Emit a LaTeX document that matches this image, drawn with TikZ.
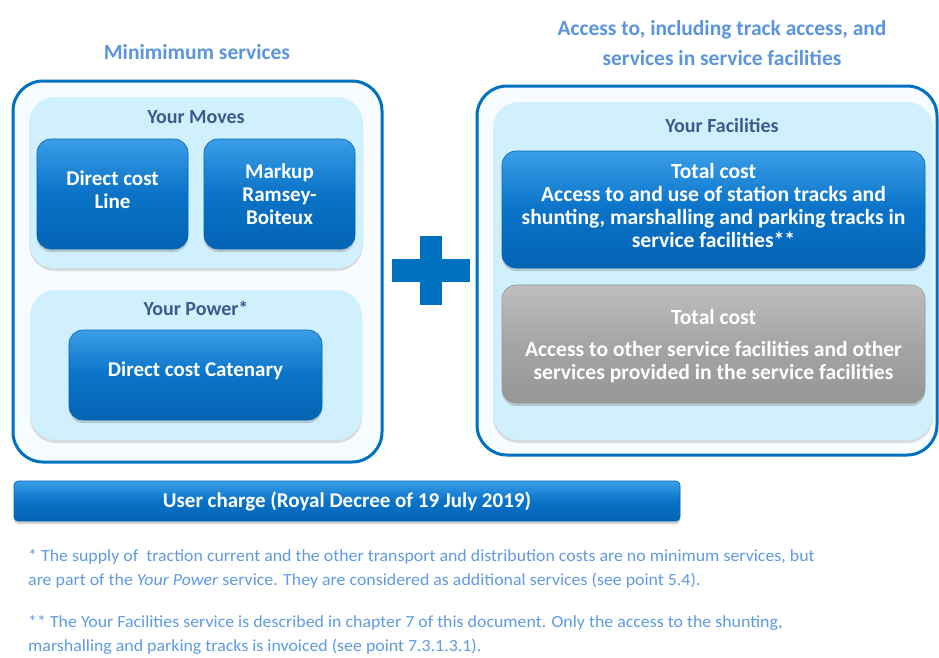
\documentclass[tikz,border=0pt]{standalone}
\usepackage{fontspec}
\setmainfont{Carlito}
\usetikzlibrary{shadows}
\definecolor{titleblue}{RGB}{91,149,222}
\definecolor{labelblue}{RGB}{62,90,140}
\definecolor{panelfill}{RGB}{207,240,252}
\definecolor{outerline}{RGB}{0,112,192}
\definecolor{outerfill}{RGB}{246,252,255}
\definecolor{boxtop}{RGB}{58,158,232}
\definecolor{boxmid}{RGB}{10,115,200}
\definecolor{boxbot}{RGB}{4,100,180}
\definecolor{graytop}{RGB}{190,190,190}
\definecolor{graymid}{RGB}{165,165,165}
\definecolor{graybot}{RGB}{150,150,150}
\definecolor{notecol}{RGB}{95,155,225}
\tikzset{
  titletext/.style={text=titleblue, font=\fontsize{21.5}{30}\selectfont\bfseries, align=center},
  outerbox/.style={draw=outerline, line width=3pt, fill=outerfill, rounded corners=30pt},
  panel/.style={fill=panelfill, rounded corners=26pt, drop shadow={shadow xshift=0pt, shadow yshift=-3pt, opacity=0.25}},
  paneltext/.style={text=labelblue, font=\fontsize{20}{22}\selectfont\bfseries},
  bluebox/.style={rounded corners=14pt, top color=boxtop, bottom color=boxbot, middle color=boxmid,
     draw=boxbot, line width=0.6pt, inner sep=0pt,
     drop shadow={shadow xshift=0pt, shadow yshift=-3pt, opacity=0.35}},
  graybox/.style={bluebox, top color=graytop, bottom color=graybot, middle color=graymid, draw=graybot},
  boxtext/.style={text=white, align=center, inner sep=0pt, font=\fontsize{21}{23}\selectfont\bfseries},
  widetext/.style={boxtext, font=\fontsize{21.6}{23.3}\selectfont\bfseries},
  notetext/.style={text=notecol, font=\fontsize{17}{24.5}\selectfont, anchor=west, align=left, inner sep=0pt},
  plusbar/.style={fill=outerline, draw=none}
}
\begin{document}
\begin{tikzpicture}[x=1pt,y=-1pt]
\useasboundingbox (0,0) rectangle (939,657);
\fill[white] (0,0) rectangle (939,657);
% titles
\node[titletext] (tmin) at (197,52) {Minimimum services};
\node[titletext] (tacc) at (722,43) {Access to, including track access, and\\services in service facilities};
% left outer
\draw[outerbox] (13,81) rectangle (382,462);
\path[panel] (29,97) rectangle (363,268);
\node[paneltext] (moves) at (196,117) {Your Moves};
\node[bluebox, minimum width=151pt, minimum height=110pt] (dcl) at (112.5,194) {};
\node[boxtext] (dclt) at ([yshift=4pt]dcl.center) {Direct cost\\Line};
\node[bluebox, minimum width=151pt, minimum height=110pt] (mrb) at (279.5,194) {};
\node[boxtext] (mrbt) at (mrb.center) {Markup\\Ramsey-\\Boiteux};
\path[panel] (30,290) rectangle (362,440);
\node[paneltext] (power) at (196,308) {Your Power*};
\node[bluebox, minimum width=253pt, minimum height=90pt] (dcc) at (195.5,375) {};
\node[boxtext] (dcct) at ([yshift=4pt]dcc.center) {Direct cost Catenary};
% plus
\fill[plusbar] (420,236) rectangle (442,305);
\fill[plusbar] (392,259) rectangle (470,282);
% right outer
\draw[outerbox] (477,86) rectangle (937,455);
\path[panel] (493,102) rectangle (933,440);
\node[paneltext] (fac) at (722,126) {Your Facilities};
\node[bluebox, minimum width=423pt, minimum height=117pt] (tc1) at (713.5,209.5) {};
\node[widetext] (tc1t) at ([yshift=4pt]tc1.center) {Total cost\\Access to and use of station tracks and\\shunting, marshalling and parking tracks in\\service facilities**};
\node[graybox, minimum width=423pt, minimum height=118pt] (tc2) at (713.5,344) {};
\node[widetext] (tc2t) at ([yshift=-2pt]tc2.center) {Total cost\\[9pt]Access to other service facilities and other\\services provided in the service facilities};
% user charge
\node[bluebox, rounded corners=4pt, minimum width=666pt, minimum height=40pt] (uc) at (347,501) {};
\node[boxtext, font=\fontsize{21}{23}\selectfont\bfseries] (uct) at (uc.center) {User charge (Royal Decree of 19 July 2019)};
% notes
\node[notetext] (n1) at (28,569) {\scalebox{1.05}[1]{* The supply of\ \ traction current and the other transport and distribution costs are no minimum services, but}\\
\scalebox{1.05}[1]{are part of the \textit{Your Power} service. They are considered as additional services (see point 5.4).}};
\node[notetext] (n2) at (28,635) {\scalebox{1.05}[1]{** The Your Facilities service is described in chapter 7 of this document. Only the access to the shunting,}\\
\scalebox{1.05}[1]{marshalling and parking tracks is invoiced (see point 7.3.1.3.1).}};
\end{tikzpicture}
\end{document}
